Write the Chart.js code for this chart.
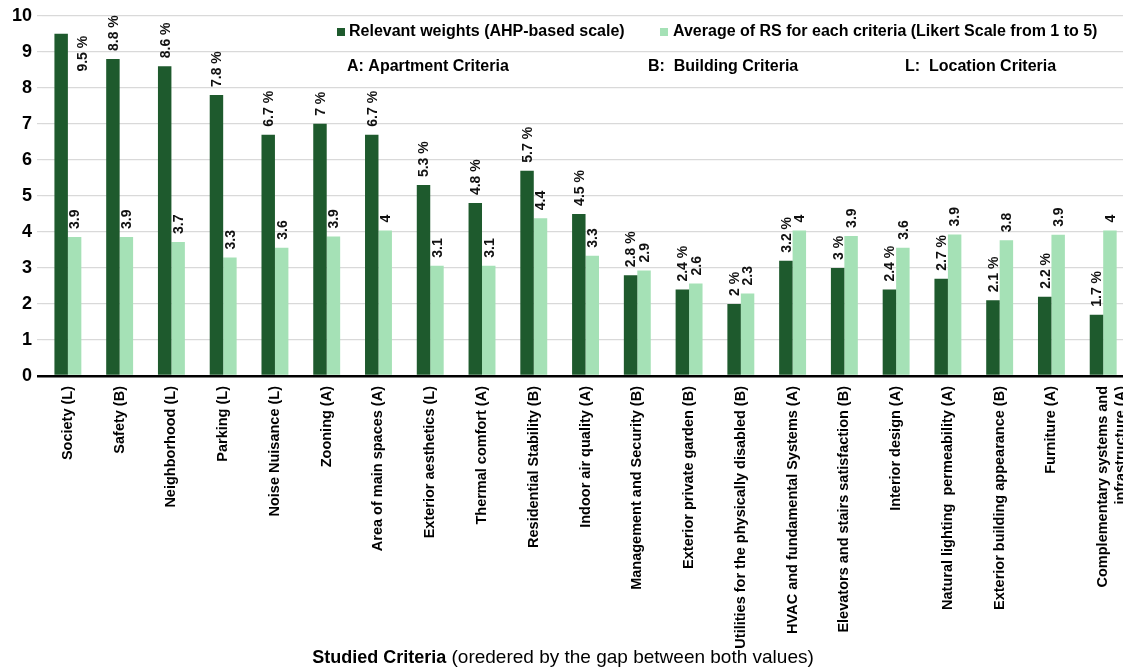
<!DOCTYPE html>
<html>
<head>
<meta charset="utf-8">
<script src="https://cdn.jsdelivr.net/npm/chart.js@4.4.1/dist/chart.umd.min.js"></script>
<style>
html, body { margin: 0; padding: 0; background: #fff; overflow: hidden; }
#wrap { width: 1123px; height: 670px; overflow: hidden; }
</style>
</head>
<body>
<div id="wrap"><canvas id="criteriaChart" width="1140" height="670"></canvas></div>
<script>
var criteria = [
  'Society (L)', 'Safety (B)', 'Neighborhood (L)', 'Parking (L)', 'Noise Nuisance (L)',
  'Zooning (A)', 'Area of main spaces (A)', 'Exterior aesthetics (L)', 'Thermal comfort (A)',
  'Residential Stability (B)', 'Indoor air quality (A)', 'Management and Security (B)',
  'Exterior private garden (B)', 'Utilities for the physically disabled (B)',
  'HVAC and fundamental Systems (A)', 'Elevators and stairs satisfaction (B)',
  'Interior design (A)', 'Natural lighting  permeability (A)', 'Exterior building appearance (B)',
  'Furniture (A)', ['Complementary systems and', 'infrastructure (A)']
];
var weights = [9.5, 8.8, 8.6, 7.8, 6.7, 7, 6.7, 5.3, 4.8, 5.7, 4.5, 2.8, 2.4, 2, 3.2, 3, 2.4, 2.7, 2.1, 2.2, 1.7];
var ratings = [3.86, 3.86, 3.72, 3.29, 3.56, 3.87, 4.04, 3.06, 3.06, 4.38, 3.34, 2.93, 2.57, 2.29, 4.04, 3.89, 3.56, 3.93, 3.77, 3.92, 4.04];
var seriesNames = ['Relevant weights (AHP-based scale)', 'Average of RS for each criteria (Likert Scale from 1 to 5)'];
var groupNotes = ['A: Apartment Criteria', 'B:  Building Criteria', 'L:  Location Criteria'];
var darkGreen = '#1e5a2d';
var lightGreen = '#a5e1b6';

var fontFamily = '"Liberation Sans", Arial, sans-serif';
Chart.defaults.font.family = fontFamily;
Chart.defaults.color = '#000';

// value labels, legend, notes and axis title
var extras = {
  id: 'extras',
  afterDatasetsDraw: function(chart) {
    var c = chart.ctx;
    c.save();
    c.font = 'bold 14px ' + fontFamily;
    c.fillStyle = '#111';
    c.textBaseline = 'middle';
    chart.data.datasets.forEach(function(ds, di) {
      chart.getDatasetMeta(di).data.forEach(function(bar, i) {
        var v = ds.data[i];
        var txt = di === 0 ? v + ' %' : String(Math.round(v * 10) / 10);
        var w = c.measureText(txt).width;
        var x = bar.x + 1, y = bar.y - 8;
        if (y - w < 0) { // no room above the bar
          x = bar.x + bar.width * 1.6;
          y = bar.y + 2 + w;
        }
        c.save();
        c.translate(x, y);
        c.rotate(-Math.PI / 2);
        c.textAlign = 'left';
        c.fillText(txt, 0, 0);
        c.restore();
      });
    });

    // legend
    c.font = 'bold 16px ' + fontFamily;
    c.textAlign = 'left';
    c.fillStyle = darkGreen;
    c.fillRect(337, 28, 8, 8);
    c.fillStyle = lightGreen;
    c.fillRect(660, 28, 8, 8);
    c.fillStyle = '#000';
    c.fillText(seriesNames[0], 349, 32);
    c.fillText(seriesNames[1], 673, 32);
    c.fillText(groupNotes[0], 347, 67);
    c.fillText(groupNotes[1], 648, 67);
    c.fillText(groupNotes[2], 905, 67);

    // x axis title
    var t1 = 'Studied Criteria', t2 = ' (oredered by the gap between both values)';
    c.font = 'bold 18px ' + fontFamily;
    var w1 = c.measureText(t1).width;
    c.font = '19px ' + fontFamily;
    var w2 = c.measureText(t2).width;
    var x0 = 563 - (w1 + w2) / 2;
    c.font = 'bold 18px ' + fontFamily;
    c.fillText(t1, x0, 658);
    c.font = '19px ' + fontFamily;
    c.fillText(t2, x0 + w1, 658);
    c.restore();
  }
};

var ctx = document.getElementById('criteriaChart').getContext('2d');
var criteriaChart = new Chart(ctx, {
  type: 'bar',
  data: {
    labels: criteria,
    datasets: [
      { label: seriesNames[0], data: weights, backgroundColor: darkGreen },
      { label: seriesNames[1], data: ratings, backgroundColor: lightGreen }
    ]
  },
  options: {
    responsive: false,
    animation: false,
    categoryPercentage: 0.52,
    barPercentage: 1,
    layout: { padding: { top: 12, right: 0, bottom: 0, left: 0 } },
    plugins: {
      legend: { display: false },
      tooltip: { enabled: false }
    },
    scales: {
      x: {
        grid: { display: false },
        border: { display: false },
        ticks: {
          autoSkip: false, maxRotation: 90, minRotation: 90, padding: 2,
          color: '#000', font: { size: 14.5, weight: 'bold' }
        },
        afterFit: function(s) { s.height = 294; }
      },
      y: {
        min: 0, max: 10,
        border: { display: false },
        grid: {
          color: function(c) { return c.tick && c.tick.value === 0 ? '#000' : '#d9d9d9'; },
          lineWidth: function(c) { return c.tick && c.tick.value === 0 ? 2.5 : 1.2; },
          tickLength: 5
        },
        ticks: { stepSize: 1, padding: 5, color: '#000', font: { size: 18, weight: 'bold' } },
        afterFit: function(s) { s.width = 42; }
      }
    }
  },
  plugins: [extras]
});
</script>
</body>
</html>
